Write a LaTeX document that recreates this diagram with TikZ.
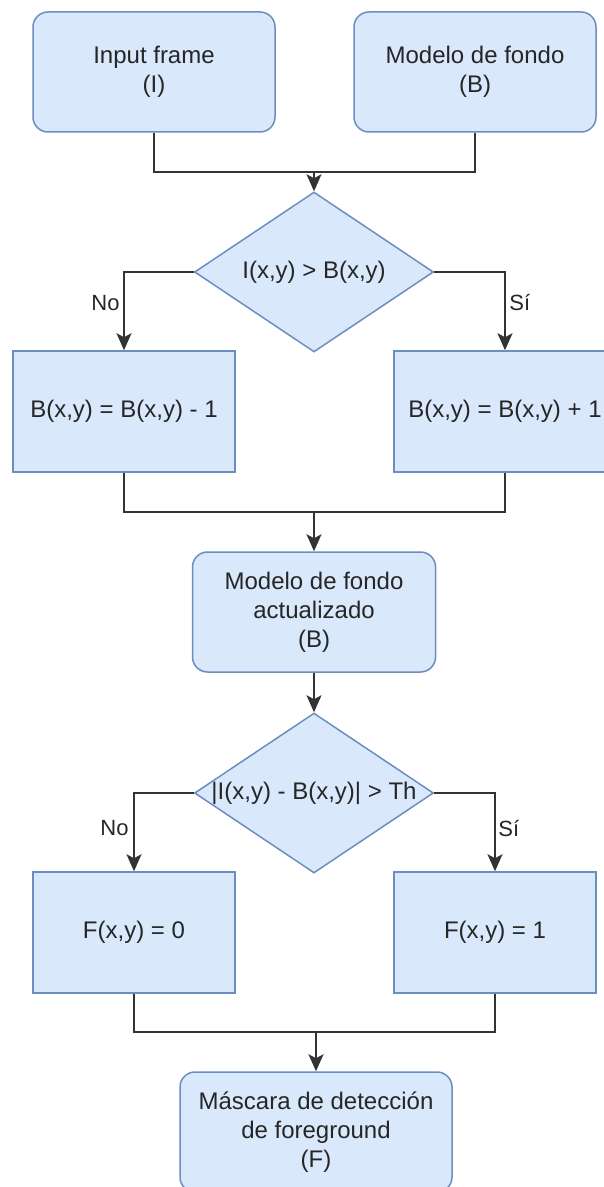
\documentclass[tikz,border=0pt]{standalone}
\usepackage{fontspec}
\setmainfont{Liberation Sans}
\usetikzlibrary{shapes.geometric,arrows.meta}

\definecolor{boxfill}{HTML}{DAE8FC}
\definecolor{boxline}{HTML}{6C8EBF}
\definecolor{wire}{HTML}{333333}
\definecolor{ink}{HTML}{262626}

\tikzset{
  base/.style={draw=boxline, fill=boxfill, line width=0.75pt, text=ink,
    align=center, inner sep=0pt, font=\fontsize{12}{14.5}\selectfont},
  roundbox/.style={base, rectangle, rounded corners=7.5pt},
  squarebox/.style={base, rectangle},
  decision/.style={base, diamond, minimum width=119.5pt, minimum height=80pt},
  wireline/.style={draw=wire, line width=0.9pt},
  arrowline/.style={wireline, -{Stealth[length=8.5pt, width=7.5pt, inset=2pt]}},
  branchlabel/.style={inner sep=0pt, text=ink, font=\fontsize{11}{13}\selectfont}
}

\begin{document}
\begin{tikzpicture}[x=0.5pt, y=-0.5pt]
  \clip (0,0) rectangle (604,1187);
  \fill[white] (0,0) rectangle (604,1187);

  % inputs
  \node[roundbox, minimum width=121pt, minimum height=60pt] (input) at (154,72) {Input frame\\(I)};
  \node[roundbox, minimum width=121pt, minimum height=60pt] (bg) at (475,72) {Modelo de fondo\\(B)};

  % first decision
  \node[decision] (cmp) at (314,272) {\makebox[0pt]{I(x,y) > B(x,y)}};
  \node[squarebox, minimum width=111pt, minimum height=60.5pt] (dec) at (124,411.5) {B(x,y) = B(x,y) - 1};
  \node[squarebox, minimum width=111pt, minimum height=60.5pt] (inc) at (505,411.5) {B(x,y) = B(x,y) + 1};

  % updated model
  \node[roundbox, minimum width=121.5pt, minimum height=60pt] (upd) at (314,612) {Modelo de fondo\\actualizado\\(B)};

  % second decision
  \node[decision] (thr) at (314,793) {\makebox[0pt]{|I(x,y) - B(x,y)| > Th}};
  \node[squarebox, minimum width=101pt, minimum height=60.5pt] (fzero) at (134,932.5) {F(x,y) = 0};
  \node[squarebox, minimum width=101pt, minimum height=60.5pt] (fone) at (495,932.5) {F(x,y) = 1};

  % output mask
  \node[roundbox, minimum width=136pt, minimum height=60pt] (mask) at (316,1132) {Máscara de detección\\de foreground\\(F)};

  % junction points
  \coordinate (j1) at (314,172);
  \coordinate (j2) at (314,512);
  \coordinate (j3) at (316,1032);

  % connectors
  \draw[wireline] (input.south) |- (j1);
  \draw[wireline] (bg.south) |- (j1);
  \draw[arrowline] (j1) -- (cmp.north);

  \draw[arrowline] (cmp.west) -| (dec.north);
  \draw[arrowline] (cmp.east) -| (inc.north);

  \draw[wireline] (dec.south) |- (j2);
  \draw[wireline] (inc.south) |- (j2);
  \draw[arrowline] (j2) -- (upd.north);

  \draw[arrowline] (upd.south) -- (thr.north);

  \draw[arrowline] (thr.west) -| (fzero.north);
  \draw[arrowline] (thr.east) -| (fone.north);

  \draw[wireline] (fzero.south) |- (j3);
  \draw[wireline] (fone.south) |- (j3);
  \draw[arrowline] (j3) -- (mask.north);

  % branch labels
  \node[branchlabel, anchor=east] (no1) at (120,303) {No};
  \node[branchlabel, anchor=west] (si1) at (509,303) {Sí};
  \node[branchlabel, anchor=east] (no2) at (129,828) {No};
  \node[branchlabel, anchor=west] (si2) at (498,828) {Sí};
\end{tikzpicture}
\end{document}
